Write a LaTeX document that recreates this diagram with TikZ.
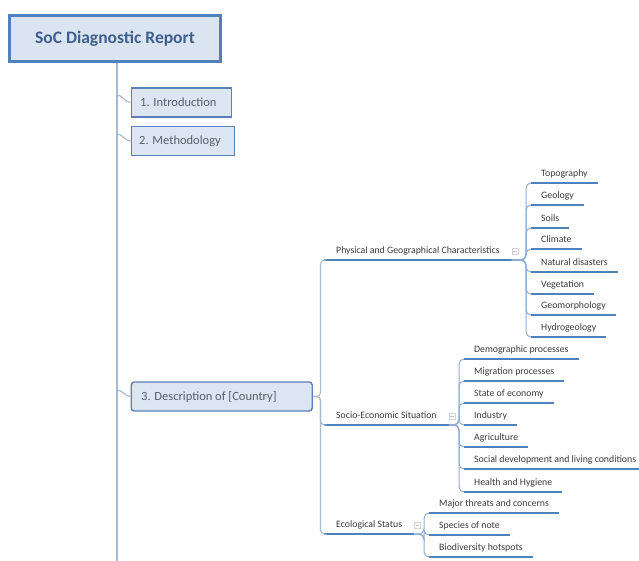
\documentclass[tikz,border=0pt]{standalone}
\usepackage{fontspec}
\setmainfont{Carlito}
\usetikzlibrary{calc}
\definecolor{rootfill}{HTML}{DBE5F1}
\definecolor{rootdraw}{HTML}{4F81BD}
\definecolor{roottext}{HTML}{3E5F8E}
\definecolor{boxfill}{HTML}{DCE6F2}
\definecolor{boxdraw}{HTML}{5B80B8}
\definecolor{boxtext}{HTML}{56606C}
\definecolor{trunkcol}{HTML}{A7BAD3}
\definecolor{ulinecol}{HTML}{4F81BD}
\definecolor{conncol}{HTML}{8EACD2}
\definecolor{leaftext}{HTML}{3A3A3A}
\begin{document}
\begin{tikzpicture}[x=1pt,y=-1pt,
  rootbox/.style={draw=rootdraw, line width=3pt, fill=rootfill, minimum width=211pt, minimum height=46pt, inner sep=0pt, font=\fontsize{17.5}{20}\selectfont\bfseries, text=roottext},
  topicbox/.style={draw=boxdraw, line width=1.4pt, fill=boxfill, anchor=west, minimum height=29pt, inner xsep=10pt, inner ysep=0pt, font=\fontsize{12.5}{15}\selectfont, text=boxtext, align=flush left},
  ulinestyle/.style={draw=ulinecol, line width=1.8pt},
  leaf/.style={anchor=south west, inner xsep=10pt, inner ysep=4pt, text height=6.8pt, text depth=2pt, font=\fontsize{9.8}{11}\selectfont, text=leaftext,
    append after command={(\tikzlastnode.south west) edge[ulinestyle] (\tikzlastnode.south east)}},
  branch/.style={leaf, inner xsep=12pt},
  trunkline/.style={draw=trunkcol, line width=1.5pt},
  tconn/.style={draw=trunkcol, line width=1.2pt},
  bconn/.style={draw=conncol, line width=1pt, rounded corners=5pt},
  sconn/.style={draw=trunkcol, line width=1.1pt, rounded corners=4pt},
  colicon/.style={draw=gray!35, fill=white, minimum size=6pt, inner sep=0pt,
    path picture={\draw[gray!50, line width=0.5pt] ([xshift=1.2pt]path picture bounding box.west) -- ([xshift=-1.2pt]path picture bounding box.east);}}
]
\useasboundingbox (0,0) rectangle (639,561);

% root and trunk
\node[rootbox] (root) at (115,38.5) {SoC Diagnostic Report};
\coordinate (tend) at (117,561);
\draw[trunkline] (root.south -| tend) -- (tend);

% topic boxes
\node[topicbox, minimum width=100pt, inner xsep=9pt, text width=82pt] (intro) at (130.5,102.5) {1. Introduction};
\node[topicbox, minimum width=103pt, inner xsep=8pt, text width=87pt] (meth) at (130.5,141) {2. Methodology};
\node[topicbox, minimum width=181pt, text width=161pt, rounded corners=3pt] (desc) at (130.5,396.5) {3. Description of [Country]};

\coordinate (j1) at (117,95);
\coordinate (j2) at (117,134);
\coordinate (j3) at (117,390);
\draw[tconn] (j1) to[out=0,in=180] (intro.west);
\draw[tconn] (j2) to[out=0,in=180] (meth.west);
\draw[tconn] (j3) to[out=0,in=180] (desc.west);

% branches
\node[branch] (phys) at (324,260) {Physical and Geographical Characteristics};
\node[branch] (socio) at (324,425) {Socio-Economic Situation};
\node[branch] (eco) at (324,534) {Ecological Status};
\foreach \b in {phys,socio,eco}{
  \draw[sconn] (desc.east) -| ([xshift=-3.5pt]\b.south west) -- (\b.south west);
  \node[colicon] (\b i) at ([xshift=3pt]\b.east) {};
}

% physical leaves
\node[leaf] (topo) at (531,183) {Topography};
\node[leaf] (geol) at (531,205) {Geology};
\node[leaf] (soil) at (531,228) {Soils};
\node[leaf] (clim) at (531,249) {Climate};
\node[leaf] (nat) at (531,272) {Natural disasters};
\node[leaf] (veg) at (531,294) {Vegetation};
\node[leaf] (geom) at (531,315) {Geomorphology};
\node[leaf] (hydro) at (531,337) {Hydrogeology};
\foreach \n in {topo,geol,soil,clim,nat,veg,geom,hydro}
  \draw[bconn] (phys.south east) -| ([xshift=-5pt]\n.south west) -- (\n.south west);

% socio leaves
\node[leaf] (demo) at (464,359) {Demographic processes};
\node[leaf] (migr) at (464,381) {Migration processes};
\node[leaf] (econ) at (464,403) {State of economy};
\node[leaf] (indu) at (464,425) {Industry};
\node[leaf] (agri) at (464,447) {Agriculture};
\node[leaf] (social) at (464,469) {Social development and living conditions};
\node[leaf] (health) at (464,492) {Health and Hygiene};
\foreach \n in {demo,migr,econ,indu,agri,social,health}
  \draw[bconn] (socio.south east) -| ([xshift=-5pt]\n.south west) -- (\n.south west);

% ecological leaves
\node[leaf] (threat) at (429,513) {Major threats and concerns};
\node[leaf] (species) at (429,535) {Species of note};
\node[leaf] (biodiv) at (429,557) {Biodiversity hotspots};
\foreach \n in {threat,species,biodiv}
  \draw[bconn] (eco.south east) -| ([xshift=-5pt]\n.south west) -- (\n.south west);
\end{tikzpicture}
\end{document}
